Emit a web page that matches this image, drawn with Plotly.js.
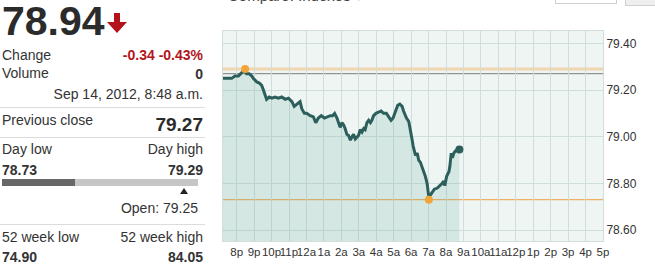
<!DOCTYPE html>
<html>
<head>
<meta charset="utf-8">
<script src="https://cdn.plot.ly/plotly-3.0.1.min.js"></script>
<style>
  html, body { margin:0; padding:0; background:#fff; }
  #wrap { position:relative; width:655px; height:265px; overflow:hidden; font-family:"Liberation Sans", Arial, sans-serif; color:#333; }
  #chart { position:absolute; left:0; top:0; width:655px; height:265px; }
  .t { position:absolute; white-space:nowrap; line-height:1; }
</style>
</head>
<body>
<div id="wrap">
  <div id="chart"></div>
  <div id="panel"></div>
</div>
<script>
// ---- data ----
const times = [
 '2012-09-13 19:13','2012-09-13 19:31','2012-09-13 19:43','2012-09-13 19:54','2012-09-13 20:06','2012-09-13 20:14',
 '2012-09-13 20:23','2012-09-13 20:29','2012-09-13 20:34','2012-09-13 20:43','2012-09-13 20:52','2012-09-13 20:57',
 '2012-09-13 21:09','2012-09-13 21:18','2012-09-13 21:26','2012-09-13 21:32','2012-09-13 21:38','2012-09-13 21:43',
 '2012-09-13 21:52','2012-09-13 22:01','2012-09-13 22:12','2012-09-13 22:23','2012-09-13 22:35','2012-09-13 22:47',
 '2012-09-13 22:58','2012-09-13 23:10','2012-09-13 23:18','2012-09-13 23:27','2012-09-13 23:38','2012-09-13 23:44',
 '2012-09-13 23:53','2012-09-14 00:01','2012-09-14 00:13','2012-09-14 00:24','2012-09-14 00:32','2012-09-14 00:41',
 '2012-09-14 00:51','2012-09-14 01:02','2012-09-14 01:10','2012-09-14 01:22','2012-09-14 01:30','2012-09-14 01:37',
 '2012-09-14 01:45','2012-09-14 01:50','2012-09-14 01:56','2012-09-14 02:02','2012-09-14 02:08','2012-09-14 02:13',
 '2012-09-14 02:19','2012-09-14 02:25','2012-09-14 02:31','2012-09-14 02:37','2012-09-14 02:42','2012-09-14 02:48',
 '2012-09-14 02:54','2012-09-14 02:59','2012-09-14 03:05','2012-09-14 03:11','2012-09-14 03:17','2012-09-14 03:22',
 '2012-09-14 03:28','2012-09-14 03:34','2012-09-14 03:40','2012-09-14 03:45','2012-09-14 03:51','2012-09-14 03:59',
 '2012-09-14 04:08','2012-09-14 04:17','2012-09-14 04:25','2012-09-14 04:35','2012-09-14 04:43','2012-09-14 04:51',
 '2012-09-14 04:58','2012-09-14 05:06','2012-09-14 05:14','2012-09-14 05:21','2012-09-14 05:29','2012-09-14 05:34',
 '2012-09-14 05:44','2012-09-14 05:52','2012-09-14 05:58','2012-09-14 06:03','2012-09-14 06:07','2012-09-14 06:11',
 '2012-09-14 06:15','2012-09-14 06:21','2012-09-14 06:26','2012-09-14 06:32','2012-09-14 06:38','2012-09-14 06:43',
 '2012-09-14 06:49','2012-09-14 06:55','2012-09-14 06:58','2012-09-14 07:01','2012-09-14 07:12','2012-09-14 07:20',
 '2012-09-14 07:30','2012-09-14 07:39','2012-09-14 07:47','2012-09-14 07:52','2012-09-14 07:56','2012-09-14 08:02',
 '2012-09-14 08:06','2012-09-14 08:10','2012-09-14 08:13','2012-09-14 08:15','2012-09-14 08:18','2012-09-14 08:22',
 '2012-09-14 08:27','2012-09-14 08:33','2012-09-14 08:46'
];
const prices = [
 79.25,79.25,79.25,79.26,79.26,79.27,
 79.28,79.28,79.27,79.27,79.26,79.25,
 79.235,79.23,79.22,79.20,79.18,79.16,
 79.17,79.165,79.17,79.165,79.17,79.16,
 79.165,79.15,79.13,79.14,79.15,79.12,
 79.10,79.10,79.09,79.085,79.06,79.08,
 79.09,79.08,79.085,79.09,79.09,79.10,
 79.08,79.06,79.04,79.06,79.05,79.035,
 79.01,79.005,78.985,79.00,79.01,78.99,
 79.00,79.005,79.03,79.02,79.035,79.03,
 79.06,79.07,79.06,79.07,79.09,79.10,
 79.105,79.11,79.10,79.10,79.085,79.07,
 79.08,79.11,79.135,79.14,79.13,79.11,
 79.08,79.065,79.03,78.99,78.96,78.94,
 78.92,78.93,78.90,78.89,78.87,78.85,
 78.83,78.80,78.77,78.74,78.76,78.775,
 78.78,78.79,78.80,78.81,78.79,78.83,
 78.84,78.85,78.87,78.91,78.93,78.91,
 78.93,78.94,78.945
];
const tickTimes = [
 '2012-09-13 20:00','2012-09-13 21:00','2012-09-13 22:00','2012-09-13 23:00','2012-09-14 00:00','2012-09-14 01:00',
 '2012-09-14 02:00','2012-09-14 03:00','2012-09-14 04:00','2012-09-14 05:00','2012-09-14 06:00','2012-09-14 07:00',
 '2012-09-14 08:00','2012-09-14 09:00','2012-09-14 10:00','2012-09-14 11:00','2012-09-14 12:00','2012-09-14 13:00',
 '2012-09-14 14:00','2012-09-14 15:00','2012-09-14 16:00','2012-09-14 17:00'
];
const tickLabels = ['8p','9p','10p','11p','12a','1a','2a','3a','4a','5a','6a','7a','8a','9a','10a','11a','12p','1p','2p','3p','4p','5p'];
const priceTicks = [78.60, 78.80, 79.00, 79.20, 79.40];
const lastPrice = 78.94, change = -0.34, changePct = -0.43, volume = 0;
const quoteTime = 'Sep 14, 2012, 8:48 a.m.';
const prevClose = 79.27, openPrice = 79.25;
const dayLow = 78.73, dayHigh = 79.29;
const dayLowTime = '2012-09-14 07:01', dayHighTime = '2012-09-13 20:29';
const week52Low = 74.90, week52High = 84.05;

// ---- chart ----
const font = '"Liberation Sans", Arial, sans-serif';
const traces = [
  { x: times, y: prices, type: 'scatter', mode: 'lines', fill: 'tozeroy',
    fillcolor: 'rgba(100,170,160,0.19)', line: { color: '#2c5f5c', width: 3 }, hoverinfo: 'skip' },
  { x: [dayHighTime, dayLowTime], y: [dayHigh, dayLow], type: 'scatter', mode: 'markers',
    marker: { color: '#f0a43a', size: 8 }, hoverinfo: 'skip' },
  { x: [times[times.length-1]], y: [prices[prices.length-1]], type: 'scatter', mode: 'markers',
    marker: { color: '#2c5f5c', size: 8 }, hoverinfo: 'skip' }
];
const layout = {
  width: 655, height: 265,
  margin: { l: 223, r: 52, t: 31, b: 24, pad: 0 },
  paper_bgcolor: '#ffffff', plot_bgcolor: '#eef5f3',
  showlegend: false,
  font: { family: font, size: 12, color: '#333' },
  xaxis: { type: 'date', range: [times[0], tickTimes[tickTimes.length-1]],
    tickvals: tickTimes, ticktext: tickLabels, tickangle: 0,
    showgrid: true, gridcolor: '#d0dedb', gridwidth: 1, zeroline: false,
    showline: true, mirror: true, linecolor: '#d3dedb', linewidth: 1, ticks: '',
    tickfont: { family: font, size: 11.5, color: '#333' } },
  yaxis: { range: [78.553, 79.453], side: 'right', tickvals: priceTicks,
    ticktext: priceTicks.map(v => v.toFixed(2)),
    showgrid: true, gridcolor: '#d0dedb', gridwidth: 1, zeroline: false,
    showline: true, mirror: true, linecolor: '#d3dedb', linewidth: 1, ticks: '',
    tickfont: { family: font, size: 12, color: '#333' } },
  shapes: [
    { type: 'line', xref: 'paper', x0: 0, x1: 1, yref: 'y', y0: dayHigh, y1: dayHigh, layer: 'below',
      line: { color: 'rgba(240,175,95,0.45)', width: 3 } },
    { type: 'line', xref: 'paper', x0: 0, x1: 1, yref: 'y', y0: prevClose, y1: prevClose, layer: 'below',
      line: { color: '#7a7a7a', width: 1 } },
    { type: 'line', xref: 'paper', x0: 0, x1: 1, yref: 'y', y0: dayLow, y1: dayLow, layer: 'below',
      line: { color: '#f0b060', width: 1.2 } }
  ]
};
Plotly.newPlot('chart', traces, layout, { staticPlot: true, displayModeBar: false });

// ---- quote panel ----
const panel = document.getElementById('panel');
function txt(s, opts) {
  const d = document.createElement('div');
  d.className = 't';
  d.textContent = s;
  const fs = opts.size || 14;
  d.style.fontSize = fs + 'px';
  d.style.fontWeight = opts.bold ? 'bold' : 'normal';
  d.style.color = opts.color || '#333';
  d.style.top = (opts.cy - 0.4885 * fs) + 'px';
  if (opts.right !== undefined) { d.style.right = (655 - opts.right) + 'px'; d.style.textAlign = 'right'; }
  else d.style.left = opts.left + 'px';
  panel.appendChild(d);
}
function box(l, t, w, h, bg, extra) {
  const d = document.createElement('div');
  d.style.position = 'absolute';
  d.style.left = l + 'px'; d.style.top = t + 'px';
  d.style.width = w + 'px'; d.style.height = h + 'px';
  d.style.background = bg;
  if (extra) Object.assign(d.style, extra);
  panel.appendChild(d);
}
const red = '#b3141c';
txt(lastPrice.toFixed(2), { left: 2, cy: 21, size: 41, bold: true, color: '#2b2b2b' });
// down arrow
const svgNS = 'http://www.w3.org/2000/svg';
const arrow = document.createElementNS(svgNS, 'svg');
arrow.setAttribute('width', '24'); arrow.setAttribute('height', '24');
arrow.style.position = 'absolute'; arrow.style.left = '105px'; arrow.style.top = '11px';
arrow.innerHTML = '<path d="M9 2 H15 V11 H22 L12 22 L2 11 H9 Z" fill="' + red + '"/>';
panel.appendChild(arrow);

txt('Change', { left: 2, cy: 55 });
txt(change.toFixed(2) + ' ' + changePct.toFixed(2) + '%', { right: 203, cy: 55, bold: true, color: red });
txt('Volume', { left: 2, cy: 73 });
txt(String(volume), { right: 203, cy: 74, bold: true });
txt(quoteTime, { right: 203, cy: 94 });
box(0, 107, 205, 1, '#dcdcdc');
txt('Previous close', { left: 2, cy: 119.5 });
txt(prevClose.toFixed(2), { right: 203, cy: 124, size: 19, bold: true, color: '#2b2b2b' });
box(0, 137, 205, 1, '#dcdcdc');
txt('Day low', { left: 2, cy: 148.5 });
txt('Day high', { right: 203, cy: 148.5 });
txt(dayLow.toFixed(2), { left: 2, cy: 170, bold: true });
txt(dayHigh.toFixed(2), { right: 203, cy: 170, bold: true });
// range bar
const barL = 2, barW = 196;
const frac = (lastPrice - dayLow) / (dayHigh - dayLow);
const openFrac = (openPrice - dayLow) / (dayHigh - dayLow);
box(barL, 179, barW, 7, '#c6c6c6');
box(barL, 179, Math.round(barW * frac), 7, '#676767');
box(barL + barW * openFrac - 4, 188, 0, 0, 'transparent',
  { borderLeft: '4px solid transparent', borderRight: '4px solid transparent', borderBottom: '6px solid #222' });
txt('Open: ' + openPrice.toFixed(2), { right: 198, cy: 208 });
box(0, 224, 205, 1, '#dcdcdc');
txt('52 week low', { left: 2, cy: 237 });
txt('52 week high', { right: 203, cy: 237 });
txt(week52Low.toFixed(2), { left: 2, cy: 257, bold: true });
txt(week52High.toFixed(2), { right: 203, cy: 257, bold: true });

// top controls (cut off in the reference)
txt('Compare: Indexes \u25BE', { left: 228, cy: -5, size: 15, color: '#444' });
box(555, -2, 62, 6, '#fff', { border: '1px solid #cfcfcf', boxSizing: 'border-box' });
box(625, -2, 40, 8, '#efefef', { border: '1px solid #cfcfcf', boxSizing: 'border-box' });
</script>
</body>
</html>
